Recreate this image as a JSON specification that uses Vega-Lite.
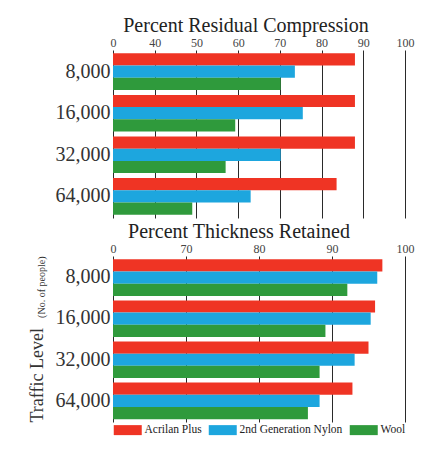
{
  "$schema": "https://vega.github.io/schema/vega-lite/v6.json",
  "padding": {"left": 28, "top": 16, "right": 4, "bottom": 4},
  "background": "white",
  "spacing": 4,
  "datasets": {
    "compression": [
      {"traffic": "8,000", "material": "Acrilan Plus", "value": 88},
      {"traffic": "8,000", "material": "2nd Generation Nylon", "value": 73.6},
      {"traffic": "8,000", "material": "Wool", "value": 70.2},
      {"traffic": "16,000", "material": "Acrilan Plus", "value": 88},
      {"traffic": "16,000", "material": "2nd Generation Nylon", "value": 75.5},
      {"traffic": "16,000", "material": "Wool", "value": 59.3},
      {"traffic": "32,000", "material": "Acrilan Plus", "value": 88},
      {"traffic": "32,000", "material": "2nd Generation Nylon", "value": 70.2},
      {"traffic": "32,000", "material": "Wool", "value": 57},
      {"traffic": "64,000", "material": "Acrilan Plus", "value": 83.6},
      {"traffic": "64,000", "material": "2nd Generation Nylon", "value": 63},
      {"traffic": "64,000", "material": "Wool", "value": 49}
    ],
    "thickness": [
      {"traffic": "8,000", "material": "Acrilan Plus", "value": 96.9},
      {"traffic": "8,000", "material": "2nd Generation Nylon", "value": 96.2},
      {"traffic": "8,000", "material": "Wool", "value": 92.1},
      {"traffic": "16,000", "material": "Acrilan Plus", "value": 95.9},
      {"traffic": "16,000", "material": "2nd Generation Nylon", "value": 95.3},
      {"traffic": "16,000", "material": "Wool", "value": 89.1},
      {"traffic": "32,000", "material": "Acrilan Plus", "value": 95.0},
      {"traffic": "32,000", "material": "2nd Generation Nylon", "value": 93.1},
      {"traffic": "32,000", "material": "Wool", "value": 88.3},
      {"traffic": "64,000", "material": "Acrilan Plus", "value": 92.8},
      {"traffic": "64,000", "material": "2nd Generation Nylon", "value": 88.3},
      {"traffic": "64,000", "material": "Wool", "value": 86.7}
    ]
  },
  "config": {
    "font": "Liberation Serif",
    "view": {"stroke": null},
    "axis": {"labelFont": "Liberation Serif", "titleFont": "Liberation Serif", "domain": false, "ticks": false, "titleFontWeight": "normal"},
    "axisX": {"labelFontSize": 12, "labelColor": "#444", "labelPadding": 1, "grid": true, "gridColor": "#2a2a2a", "gridOpacity": 1, "gridWidth": 1, "labelFlush": false, "title": null},
    "axisY": {"labelFontSize": 20, "labelColor": "#333", "labelPadding": 3, "grid": false, "titlePadding": 9, "titleColor": "#333"},
    "legend": {
      "orient": "bottom",
      "direction": "horizontal",
      "title": null,
      "symbolType": "M-1,-1H4.6V1H-1Z",
      "symbolSize": 100,
      "symbolStrokeWidth": 0,
      "symbolOpacity": 1,
      "labelOffset": 20,
      "columnPadding": 6,
      "labelFont": "Liberation Serif",
      "labelFontSize": 11.5,
      "labelColor": "#222",
      "offset": 2
    }
  },
  "vconcat": [
    {
      "data": {"name": "compression"},
      "title": {"text": "Percent Residual Compression", "fontSize": 20, "fontWeight": "normal", "color": "#222", "offset": 0, "dx": -13, "font": "Liberation Serif"},
      "width": 292,
      "height": 168,
      "mark": {"type": "bar"},
      "encoding": {
        "y": {"field": "traffic", "type": "nominal", "sort": ["8,000", "16,000", "32,000", "64,000"], "scale": {"paddingInner": 0.12, "paddingOuter": 0.08}, "axis": {"title": null}},
        "yOffset": {"field": "material", "type": "nominal", "sort": ["Acrilan Plus", "2nd Generation Nylon", "Wool"], "scale": {"paddingInner": 0, "paddingOuter": 0}},
        "x": {"field": "value", "type": "quantitative", "scale": {"domain": [30, 100], "zero": false, "nice": false, "clamp": true}, "axis": {"orient": "top", "values": [30, 40, 50, 60, 70, 80, 90, 100], "labelExpr": "datum.value == 30 ? '0' : datum.label"}},
        "x2": {"datum": 30},
        "color": {"field": "material", "type": "nominal", "sort": ["Acrilan Plus", "2nd Generation Nylon", "Wool"], "scale": {"domain": ["Acrilan Plus", "2nd Generation Nylon", "Wool"], "range": ["#ef3424", "#1da6de", "#2f9a3c"]}}
      }
    },
    {
      "data": {"name": "thickness"},
      "title": {"text": "Percent Thickness Retained", "fontSize": 20, "fontWeight": "normal", "color": "#222", "offset": 0, "dx": -20, "font": "Liberation Serif"},
      "width": 292,
      "height": 166,
      "layer": [
        {
          "mark": {"type": "bar"},
          "encoding": {
            "y": {"field": "traffic", "type": "nominal", "sort": ["8,000", "16,000", "32,000", "64,000"], "scale": {"paddingInner": 0.12, "paddingOuter": 0.08}, "axis": {"title": "Traffic Level", "titleFontSize": 18, "titleAnchor": "end", "titleAlign": "left"}},
            "yOffset": {"field": "material", "type": "nominal", "sort": ["Acrilan Plus", "2nd Generation Nylon", "Wool"], "scale": {"paddingInner": 0, "paddingOuter": 0}},
            "x": {"field": "value", "type": "quantitative", "scale": {"domain": [60, 100], "zero": false, "nice": false, "clamp": true}, "axis": {"orient": "top", "values": [60, 70, 80, 90, 100], "labelExpr": "datum.value == 60 ? '0' : datum.label"}},
            "x2": {"datum": 60},
            "color": {"field": "material", "type": "nominal", "sort": ["Acrilan Plus", "2nd Generation Nylon", "Wool"], "scale": {"domain": ["Acrilan Plus", "2nd Generation Nylon", "Wool"], "range": ["#ef3424", "#1da6de", "#2f9a3c"]}}
          }
        },
        {
          "mark": {"type": "bar", "opacity": 0},
          "encoding": {
            "y": {"field": "traffic", "type": "nominal", "sort": ["8,000", "16,000", "32,000", "64,000"], "axis": {"orient": "left", "title": "(No. of people)", "titleFontSize": 10, "titleAnchor": "start", "titleAlign": "right", "labelOpacity": 0}},
            "x": {"field": "value", "type": "quantitative"}
          }
        }
      ],
      "resolve": {"axis": {"y": "independent"}}
    }
  ]
}
